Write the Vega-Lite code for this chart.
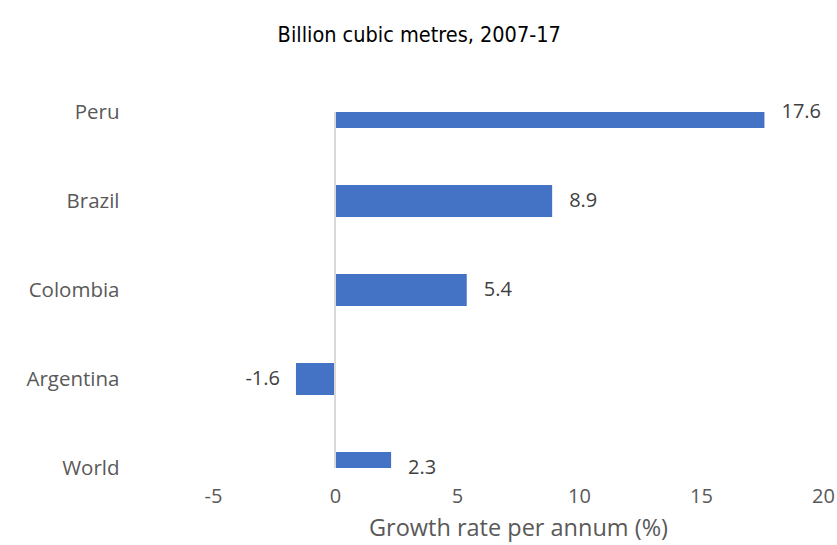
{
  "$schema": "https://vega.github.io/schema/vega-lite/v6.json",
  "autosize": {"type": "none"},
  "padding": {"left": 213, "top": 112, "right": 14, "bottom": 77},
  "width": 610,
  "height": 356,
  "background": "white",
  "title": {
    "text": "Billion cubic metres, 2007-17",
    "font": "Liberation Sans Narrow, DejaVu Sans Condensed, sans-serif",
    "fontSize": 21.5,
    "fontWeight": "normal",
    "color": "#000000",
    "anchor": "middle",
    "frame": "bounds",
    "offset": 56,
    "dx": -11
  },
  "data": {
    "values": [
      {"country": "Peru", "growth": 17.6},
      {"country": "Brazil", "growth": 8.9},
      {"country": "Colombia", "growth": 5.4},
      {"country": "Argentina", "growth": -1.6},
      {"country": "World", "growth": 2.3}
    ]
  },
  "config": {
    "view": {"stroke": null},
    "font": "Open Sans"
  },
  "layer": [
    {
      "mark": {"type": "bar", "color": "#4472C4", "height": 32, "clip": true},
      "encoding": {
        "y": {
          "field": "country",
          "type": "nominal",
          "sort": ["Peru", "Brazil", "Colombia", "Argentina", "World"],
          "scale": {"type": "point", "padding": 0},
          "axis": {
            "title": null,
            "domain": false,
            "ticks": false,
            "labelPadding": 94,
            "labelFont": "Open Sans",
            "labelFontSize": 20.5,
            "labelColor": "#595959"
          }
        },
        "x": {
          "field": "growth",
          "type": "quantitative",
          "scale": {"domain": [-5, 20], "nice": false, "zero": true},
          "axis": {
            "title": "Growth rate per annum (%)",
            "values": [-5, 0, 5, 10, 15, 20],
            "labelExpr": "toString(datum.value)",
            "grid": false,
            "domain": false,
            "ticks": false,
            "labelPadding": 18,
            "labelFont": "Open Sans",
            "labelFontSize": 20,
            "labelColor": "#595959",
            "labelFlush": false,
            "titleFont": "Open Sans",
            "titleFontSize": 23.5,
            "titleFontWeight": "normal",
            "titleColor": "#595959",
            "titlePadding": 10
          }
        }
      }
    },
    {
      "mark": {"type": "rule", "color": "#D9D9D9", "strokeWidth": 2},
      "encoding": {"x": {"datum": 0}}
    },
    {
      "transform": [{"filter": "datum.growth >= 0"}],
      "mark": {"type": "text", "align": "left", "dx": 17, "fontSize": 20, "color": "#404040", "font": "Open Sans"},
      "encoding": {
        "y": {"field": "country", "type": "nominal", "sort": ["Peru", "Brazil", "Colombia", "Argentina", "World"]},
        "x": {"field": "growth", "type": "quantitative"},
        "text": {"field": "growth", "type": "nominal"}
      }
    },
    {
      "transform": [{"filter": "datum.growth < 0"}],
      "mark": {"type": "text", "align": "right", "dx": -16, "fontSize": 20, "color": "#404040", "font": "Open Sans"},
      "encoding": {
        "y": {"field": "country", "type": "nominal", "sort": ["Peru", "Brazil", "Colombia", "Argentina", "World"]},
        "x": {"field": "growth", "type": "quantitative"},
        "text": {"field": "growth", "type": "nominal"}
      }
    }
  ]
}
